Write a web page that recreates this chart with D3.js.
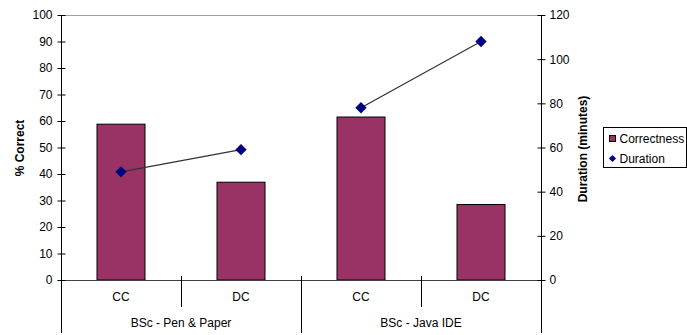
<!DOCTYPE html>
<html>
<head>
<meta charset="utf-8">
<script src="https://cdn.jsdelivr.net/npm/d3@7"></script>
<style>
  html, body { margin: 0; padding: 0; background: #fff; }
  svg { display: block; font-family: "Liberation Sans", Arial, sans-serif; }
</style>
</head>
<body>
<svg id="chart" width="687" height="335"></svg>
<script>
// Groups and sub-categories along the x axis
const groups = ["BSc - Pen & Paper", "BSc - Java IDE"];
const subCategories = ["CC", "DC", "CC", "DC"];
const groupOf = [0, 0, 1, 1];

// Series values
const correctness = [58.8, 36.9, 61.5, 28.5];   // % correct (left axis)
const duration = [49, 59, 78, 108];              // minutes (right axis)

// Tick values
const leftTicks = [0, 10, 20, 30, 40, 50, 60, 70, 80, 90, 100];
const rightTicks = [0, 20, 40, 60, 80, 100, 120];

const FONT = 12;
const svg = d3.select("#chart");
const m = { left: 61, right: 541, top: 15, bottom: 280 };

const x = d3.scaleBand().domain(d3.range(subCategories.length))
  .range([m.left, m.right]).paddingInner(0).paddingOuter(0);
const yL = d3.scaleLinear().domain([0, 100]).range([m.bottom, m.top]);
const yR = d3.scaleLinear().domain([0, 120]).range([m.bottom, m.top]);

// plot area top border
svg.append("line").attr("x1", m.left).attr("x2", m.right)
  .attr("y1", m.top + 0.5).attr("y2", m.top + 0.5)
  .attr("stroke", "#a0a0a0").attr("stroke-width", 1);

// bars
const barW = x.bandwidth() * 0.4;
svg.append("g").selectAll("rect").data(correctness).join("rect")
  .attr("x", (d, i) => x(i) + (x.bandwidth() - barW) / 2)
  .attr("y", d => yL(d))
  .attr("width", barW)
  .attr("height", d => yL(0) - yL(d))
  .attr("fill", "#993366")
  .attr("stroke", "#000").attr("stroke-width", 1);

// x axis baseline
svg.append("line").attr("x1", m.left).attr("x2", m.right)
  .attr("y1", m.bottom + 0.5).attr("y2", m.bottom + 0.5)
  .attr("stroke", "#404040").attr("stroke-width", 1.2);

// left axis
const gL = svg.append("g").attr("transform", `translate(${m.left + 0.5},0)`)
  .call(d3.axisLeft(yL).tickValues(leftTicks).tickSizeInner(4).tickSizeOuter(0).tickPadding(5));
gL.select(".domain").remove();
gL.selectAll(".tick line").attr("x1", -4).attr("x2", 4).attr("stroke", "#000");
gL.selectAll(".tick text").attr("font-size", FONT).attr("fill", "#000")
  .attr("font-family", "Liberation Sans, Arial, sans-serif");
svg.append("line").attr("x1", m.left + 0.5).attr("x2", m.left + 0.5)
  .attr("y1", m.top).attr("y2", 333).attr("stroke", "#000");

// right axis
const gR = svg.append("g").attr("transform", `translate(${m.right + 0.5},0)`)
  .call(d3.axisRight(yR).tickValues(rightTicks).tickSizeInner(4).tickSizeOuter(0).tickPadding(4));
gR.select(".domain").remove();
gR.selectAll(".tick line").attr("x1", -4).attr("x2", 4).attr("stroke", "#000");
gR.selectAll(".tick text").attr("font-size", FONT).attr("fill", "#000")
  .attr("font-family", "Liberation Sans, Arial, sans-serif");
svg.append("line").attr("x1", m.right + 0.5).attr("x2", m.right + 0.5)
  .attr("y1", m.top).attr("y2", 333).attr("stroke", "#000");

// category dividers: short between sub-categories, long between groups
for (let i = 1; i < subCategories.length; i++) {
  const xb = Math.round(x(i)) + 0.5;
  const long = groupOf[i] !== groupOf[i - 1];
  svg.append("line").attr("x1", xb).attr("x2", xb)
    .attr("y1", m.bottom - 4).attr("y2", long ? 333 : 307)
    .attr("stroke", "#000");
}

// sub-category labels
svg.append("g").selectAll("text").data(subCategories).join("text")
  .attr("x", (d, i) => x(i) + x.bandwidth() / 2)
  .attr("y", 297).attr("dy", "0.35em")
  .attr("text-anchor", "middle").attr("font-size", FONT)
  .text(d => d);

// group labels
svg.append("g").selectAll("text").data(groups).join("text")
  .attr("x", (d, g) => {
    const idx = d3.range(subCategories.length).filter(i => groupOf[i] === g);
    return (x(idx[0]) + x(idx[idx.length - 1]) + x.bandwidth()) / 2;
  })
  .attr("y", 323).attr("dy", "0.35em")
  .attr("text-anchor", "middle").attr("font-size", FONT)
  .text(d => d);

// duration lines, one segment per group, and markers
const line = d3.line().x(d => x(d.i) + x.bandwidth() / 2).y(d => yR(d.v));
const pts = duration.map((v, i) => ({ v, i, g: groupOf[i] }));
svg.append("g").selectAll("path").data(d3.groups(pts, d => d.g).map(e => e[1])).join("path")
  .attr("d", line)
  .attr("fill", "none").attr("stroke", "#333").attr("stroke-width", 1.2);
const diamond = d3.symbol().type(d3.symbolSquare).size(64);
svg.append("g").selectAll("path").data(duration).join("path")
  .attr("d", diamond)
  .attr("transform", (d, i) => `translate(${x(i) + x.bandwidth() / 2},${yR(d)}) rotate(45)`)
  .attr("fill", "#000080");

// axis titles
svg.append("text")
  .attr("transform", `translate(19.5,148) rotate(-90)`)
  .attr("text-anchor", "middle").attr("dy", "0.35em")
  .attr("font-size", FONT).attr("font-weight", "bold")
  .text("% Correct");
svg.append("text")
  .attr("transform", `translate(582.5,149) rotate(-90)`)
  .attr("text-anchor", "middle").attr("dy", "0.35em")
  .attr("font-size", FONT).attr("font-weight", "bold")
  .text("Duration (minutes)");

// legend
const lg = svg.append("g");
lg.append("rect").attr("x", 603.5).attr("y", 127.5).attr("width", 83).attr("height", 40)
  .attr("fill", "#fff").attr("stroke", "#000");
lg.append("rect").attr("x", 609.5).attr("y", 135.5).attr("width", 6).attr("height", 6)
  .attr("fill", "#993366").attr("stroke", "#000");
lg.append("text").attr("x", 619.5).attr("y", 138.5).attr("dy", "0.35em")
  .attr("font-size", FONT).text("Correctness");
lg.append("path").attr("d", d3.symbol().type(d3.symbolSquare).size(26))
  .attr("transform", "translate(612.5,158.5) rotate(45)").attr("fill", "#000080");
lg.append("text").attr("x", 619.5).attr("y", 158.5).attr("dy", "0.35em")
  .attr("font-size", FONT).text("Duration");
</script>
</body>
</html>
